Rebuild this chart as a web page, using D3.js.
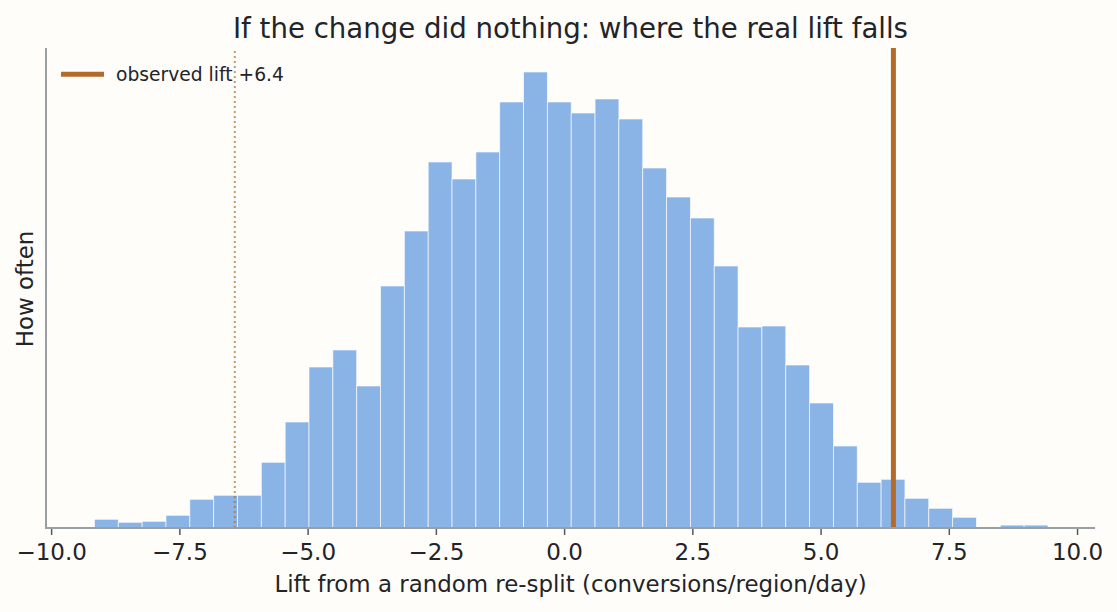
<!DOCTYPE html>
<html>
<head>
<meta charset="utf-8">
<script src="https://cdn.jsdelivr.net/npm/d3@7"></script>
<style>
  html, body { margin: 0; padding: 0; background: #fffdf9; }
  svg { display: block; }
  text { font-family: "DejaVu Sans", sans-serif; fill: #222428; }
</style>
</head>
<body>
<svg id="chart" width="1117" height="612"></svg>
<script>
// Left edge of the first bin and the bin width
var binStart = -9.155;
var binWidth = 0.4647;

// Bar heights (the y axis has no ticks, so units are arbitrary)
var binHeights = [
  8.7, 5.7, 6.7, 12.7, 28.7, 32.7, 32.7, 65.7, 106, 161,
  178, 142, 242, 297, 366, 349, 376, 426, 456, 426,
  415, 429, 409, 360, 331, 310, 262, 201, 202, 163,
  125, 82, 45.7, 48.7, 29.7, 19.7, 10.7, 0, 2.9, 2.9
];

var xTicks = [-10, -7.5, -5, -2.5, 0, 2.5, 5, 7.5, 10];

// Observed lift and its mirror image
var observedLift = 6.42;
var mirrorLift = -6.42;

var titleText = "If the change did nothing: where the real lift falls";
var xLabelText = "Lift from a random re-split (conversions/region/day)";
var yLabelText = "How often";
var legendText = "observed lift +6.4";

var barColor = "#8ab3e6";
var liftColor = "#b36b2c";
var spineColor = "#9a9fa6";

var svg = d3.select("#chart");

// Plot area in pixels
var plotLeft = 46, plotRight = 1095, plotTop = 48, plotBottom = 528;

var x = d3.scaleLinear().domain([-10.1, 10.35]).range([plotLeft, plotRight]);
var y = d3.scaleLinear().domain([0, d3.max(binHeights) * 1.0526]).range([plotBottom, plotTop]);

// Bars
svg.append("g").selectAll("rect")
  .data(binHeights)
  .join("rect")
  .attr("x", function(d, i) { return x(binStart + i * binWidth); })
  .attr("width", function() { return x(binWidth) - x(0); })
  .attr("y", function(d) { return y(d); })
  .attr("height", function(d) { return plotBottom - y(d); })
  .attr("fill", barColor)
  .attr("stroke", "rgba(255,255,255,0.7)")
  .attr("stroke-width", 0.9)
  .style("display", function(d) { return d > 0 ? null : "none"; });

// Dotted line at the mirrored lift
svg.append("line")
  .attr("x1", x(mirrorLift)).attr("x2", x(mirrorLift))
  .attr("y1", 51).attr("y2", plotBottom)
  .attr("stroke", liftColor)
  .attr("stroke-opacity", 0.7)
  .attr("stroke-width", 2)
  .attr("stroke-dasharray", "2 3");

// Solid line at the observed lift
svg.append("line")
  .attr("x1", x(observedLift)).attr("x2", x(observedLift))
  .attr("y1", plotTop).attr("y2", plotBottom)
  .attr("stroke", liftColor)
  .attr("stroke-width", 5);

// Bottom axis
var xAxis = d3.axisBottom(x)
  .tickValues(xTicks)
  .tickSize(7)
  .tickPadding(9)
  .tickFormat(function(d) { return d3.format(".1f")(d).replace("-", "\u2212"); });

var axisG = svg.append("g")
  .attr("transform", "translate(0," + plotBottom + ")")
  .call(xAxis);
axisG.select(".domain").remove();
axisG.selectAll("line").attr("stroke", "#55585d").attr("stroke-width", 1.5);
axisG.selectAll("text").style("font-size", "23px").attr("fill", "#222428");

// Spines
svg.append("line")
  .attr("x1", plotLeft).attr("x2", plotLeft).attr("y1", plotTop).attr("y2", plotBottom + 1)
  .attr("stroke", spineColor).attr("stroke-width", 2);
svg.append("line")
  .attr("x1", plotLeft).attr("x2", plotRight).attr("y1", plotBottom).attr("y2", plotBottom)
  .attr("stroke", spineColor).attr("stroke-width", 2);

// Title and axis labels
svg.append("text")
  .attr("x", 570.5).attr("y", 37.5)
  .attr("text-anchor", "middle")
  .style("font-size", "27.6px")
  .text(titleText);

svg.append("text")
  .attr("x", 570.5).attr("y", 592)
  .attr("text-anchor", "middle")
  .style("font-size", "22.9px")
  .text(xLabelText);

svg.append("text")
  .attr("transform", "translate(33,289) rotate(-90)")
  .attr("text-anchor", "middle")
  .style("font-size", "22.9px")
  .text(yLabelText);

// Legend
svg.append("line")
  .attr("x1", 61).attr("x2", 104).attr("y1", 74.3).attr("y2", 74.3)
  .attr("stroke", liftColor).attr("stroke-width", 5);
svg.append("text")
  .attr("x", 116).attr("y", 81)
  .style("font-size", "18.7px")
  .text(legendText);
</script>
</body>
</html>
